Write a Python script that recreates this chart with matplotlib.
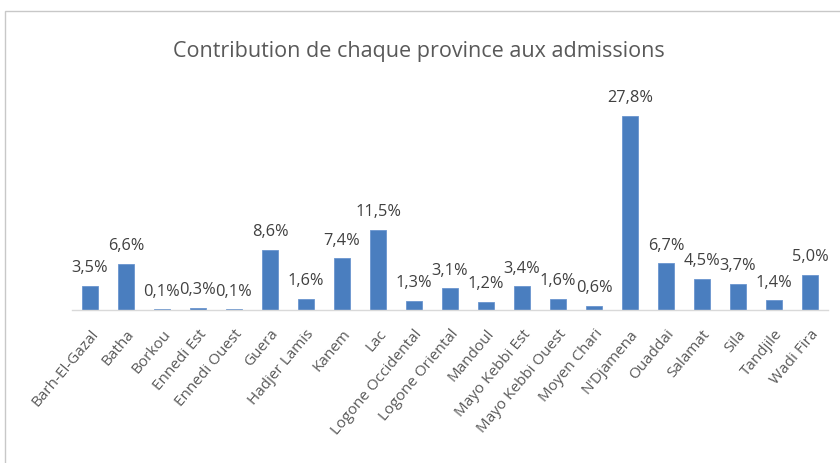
import matplotlib
matplotlib.use("Agg")
import matplotlib.pyplot as plt
from matplotlib.patches import Rectangle

provinces = ["Barh-El-Gazal", "Batha", "Borkou", "Ennedi Est", "Ennedi Ouest", "Guera",
             "Hadjer Lamis", "Kanem", "Lac", "Logone Occidental", "Logone Oriental",
             "Mandoul", "Mayo Kebbi Est", "Mayo Kebbi Ouest", "Moyen Chari", "N'Djamena",
             "Ouaddai", "Salamat", "Sila", "Tandjile", "Wadi Fira"]
values = [3.5, 6.6, 0.1, 0.3, 0.1, 8.6, 1.6, 7.4, 11.5, 1.3, 3.1, 1.2, 3.4, 1.6, 0.6,
          27.8, 6.7, 4.5, 3.7, 1.4, 5.0]
title = "Contribution de chaque province aux admissions"

plt.rcParams['font.family'] = ['Open Sans', 'DejaVu Sans']
W, H = 840, 463
fig = plt.figure(figsize=(W / 100, H / 100), dpi=100)
fig.patch.set_facecolor("white")

# chart border (left and top visible)
fig.add_artist(Rectangle((5 / W, -0.1), 1.2, 1 - 11 / H + 0.1, transform=fig.transFigure,
                         fill=False, edgecolor="#C8C8C8", linewidth=1.0))

ax = fig.add_axes([72 / W, 1 - 310 / H, (828 - 72) / W, (310 - 100.6) / H])
x = list(range(len(provinces)))
bars = ax.bar(x, values, width=0.42, color="#4A7EBF", edgecolor="#6A95CF", linewidth=0.6)
ax.set_xlim(-0.5, len(provinces) - 0.5)
ax.set_ylim(0, 30)
ax.set_yticks([])
for s in ["top", "right", "left"]:
    ax.spines[s].set_visible(False)
ax.spines["bottom"].set_color("#D9D9D9")
ax.spines["bottom"].set_linewidth(1.0)
ax.tick_params(axis="x", length=0, pad=12)
ax.set_xticks(x)
ax.set_xticklabels(provinces, rotation=50, ha="right", rotation_mode="anchor",
                   fontsize=11, color="#595959")

for xi, v in zip(x, values):
    ax.annotate(f"{v:.1f}%".replace(".", ","), (xi, v), xytext=(0, 7),
                textcoords="offset points", ha="center", va="bottom",
                fontsize=11.8, color="#404040")

fig.text(0.5 * (172 + 665) / W, 1 - 52 / H, title, ha="center", va="center",
         fontsize=15.5, color="#595959")

fig.savefig("out.png", dpi=100)
